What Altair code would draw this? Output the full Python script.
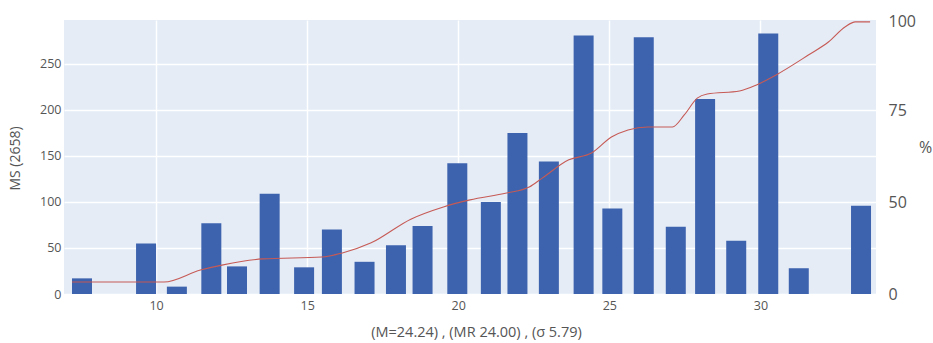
import altair as alt
import pandas as pd

# Bars (histogram-like): centre positions and counts
bin_x = [7.55, 9.67, 10.69, 11.83, 12.68, 13.76, 14.9, 15.82, 16.9, 17.94, 18.82, 19.97,
         21.08, 21.96, 23.0, 24.15, 25.1, 26.14, 27.2, 28.17, 29.2, 30.26, 31.27, 33.33]
counts = [17, 55, 8, 77, 30, 109, 29, 70, 35, 53, 74, 142,
          100, 175, 144, 281, 93, 279, 73, 212, 58, 283, 28, 96]

# Cumulative percentage curve
cum_x = [7.22, 10.26, 11.47, 12.22, 13.53, 15.49, 16.14, 17.12, 18.43, 19.51, 20.39, 21.6,
         22.35, 22.78, 23.66, 24.41, 25.07, 25.62, 26.27, 27.09, 27.48, 27.91, 28.24, 29.31,
         29.87, 30.52, 31.6, 32.25, 32.81, 33.14, 33.63]
cum_pct = [4.4, 4.4, 8.8, 10.7, 12.9, 13.6, 15.0, 18.8, 27.5, 32.0, 34.6, 37.1,
           39.3, 42.6, 49.3, 51.8, 57.7, 60.3, 61.4, 61.4, 65.8, 72.0, 73.5, 74.6,
           76.8, 80.5, 87.9, 92.6, 98.2, 100.0, 100.0]

x_ticks = [10, 15, 20, 25, 30]
left_ticks = [0, 50, 100, 150, 200, 250]
# right-axis labels as printed in the reference, and where they sit on the % scale
right_labels = ["0", "50", "75", "100"]
right_label_pos = [0, 33.8, 67.6, 100]

bars_df = pd.DataFrame({"x": bin_x, "count": counts})
line_df = pd.DataFrame({"x": cum_x, "pct": cum_pct})

label_expr = " : ".join(
    f"datum.value == {p} ? '{t}'" for p, t in zip(right_label_pos, right_labels)
) + " : ''"

FONT = "Open Sans"
TXT = "#555555"
xscale = alt.Scale(domain=[7.12, 33.66], nice=False, zero=False)

bars = alt.Chart(bars_df).mark_bar(size=20, color="#3D63AE").encode(
    x=alt.X("x:Q", scale=xscale,
            axis=alt.Axis(values=x_ticks, title="(M=24.24) , (MR 24.00) , (σ 5.79)",
                          grid=True, gridColor="white", gridWidth=1.5,
                          domain=False, ticks=False, labelPadding=5,
                          labelFontSize=12.5, labelColor=TXT, labelFont=FONT,
                          titleFont=FONT, titleFontSize=14.5, titleColor=TXT,
                          titleFontWeight="normal", titleX=412, titleY=38,
                          titleAlign="center", titleBaseline="middle")),
    y=alt.Y("count:Q", scale=alt.Scale(domain=[0, 297.8], nice=False),
            axis=alt.Axis(values=left_ticks, title="MS (2658)", grid=True,
                          gridColor="white", gridWidth=1.5, domain=False, ticks=False,
                          labelPadding=3, labelFontSize=12.5, labelColor=TXT, labelFont=FONT,
                          titleFont=FONT, titleFontSize=14, titleColor=TXT,
                          titleFontWeight="normal", titleX=-49, titleY=138,
                          titleAngle=270, titleAlign="center", titleBaseline="middle")),
)

line = alt.Chart(line_df).mark_line(color="#C65A55", strokeWidth=1.1,
                                    interpolate="monotone").encode(
    x=alt.X("x:Q", scale=xscale),
    y=alt.Y("pct:Q", scale=alt.Scale(domain=[0, 100.7], nice=False),
            axis=alt.Axis(orient="right", values=right_label_pos, labelExpr=label_expr,
                          title="%", grid=False,
                          domain=False, ticks=False, labelPadding=12,
                          labelFontSize=16, labelColor=TXT, labelFont=FONT,
                          titleFont=FONT, titleFontSize=16, titleColor=TXT,
                          titleFontWeight="normal", titleAngle=0, titleX=49, titleY=127,
                          titleAlign="center", titleBaseline="middle")),
)

chart = alt.layer(bars, line).resolve_scale(y="independent").properties(
    width=812, height=274,
    autosize=alt.AutoSizeParams(type="none"),
    padding={"left": 64, "top": 20, "right": 57, "bottom": 49},
    background="white",
).configure_view(fill="#E5ECF6", stroke=None)

chart.save("out.html", embed_options={"renderer": "svg", "actions": False})
